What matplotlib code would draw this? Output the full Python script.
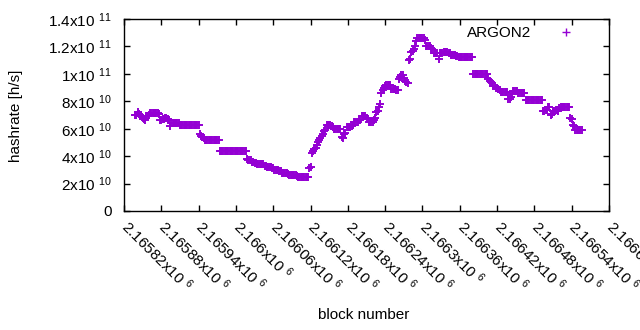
import numpy as np
import matplotlib
matplotlib.use('Agg')
import matplotlib.pyplot as plt
import matplotlib.transforms as mtransforms
from matplotlib.ticker import FuncFormatter, MultipleLocator

plt.rcParams['font.family'] = ['Liberation Sans', 'DejaVu Sans']
plt.rcParams['mathtext.fontset'] = 'custom'
plt.rcParams['mathtext.rm'] = 'Liberation Sans'
plt.rcParams['mathtext.default'] = 'regular'

# sampled every 2 blocks, hashrate in units of 1e10 h/s
block_start = 2165838
block_step = 2
hashrate = [
    7.0, 7.0, 7.2, 7.1, 6.9, 6.9, 6.8, 6.7, 6.6, 6.9,
    6.9, 7.0, 7.15, 7.15, 7.15, 7.15, 7.15, 7.15, 7.15, 7.1,
    6.6, 6.6, 6.7, 6.7, 6.8, 6.8, 6.7, 6.6, 6.2, 6.45,
    6.45, 6.45, 6.45, 6.45, 6.45, 6.45, 6.25, 6.25, 6.25, 6.25,
    6.25, 6.25, 6.25, 6.25, 6.25, 6.25, 6.25, 6.25, 6.25, 6.25,
    6.25, 6.25, 5.6, 5.5, 5.4, 5.3, 5.2, 5.15, 5.15, 5.15,
    5.15, 5.15, 5.15, 5.15, 5.15, 5.15, 5.15, 5.15,
    4.35, 4.35, 4.35, 4.35, 4.35, 4.35, 4.35, 4.35, 4.35, 4.35, 4.35,
    4.35, 4.35, 4.35, 4.35, 4.35, 4.35, 4.35, 4.35, 4.35, 4.35, 4.35,
    3.8, 3.75, 3.7, 3.7, 3.55, 3.55, 3.5, 3.5, 3.45, 3.45,
    3.4, 3.4, 3.4, 3.4, 3.3, 3.3, 3.2, 3.2, 3.2, 3.2,
    3.1, 3.1, 3.0, 3.0, 3.0, 3.0, 2.9, 2.9, 2.8, 2.8,
    2.8, 2.8, 2.75, 2.7, 2.62, 2.62, 2.62, 2.62, 2.6, 2.6,
    2.55, 2.5, 2.48, 2.48, 2.45, 2.45, 2.5, 2.48, 2.48, 2.48,
    3.1, 3.2, 4.2, 4.4, 4.5, 4.6, 4.8, 5.0, 5.2, 5.3,
    5.5, 5.6, 5.8, 5.9, 6.3, 6.3, 6.3, 6.3, 6.2, 6.1,
    6.0, 6.0, 6.0, 6.0, 6.0, 6.0, 5.4, 5.3, 5.6, 5.7,
    6.1, 6.1, 6.1, 6.1, 6.2, 6.3, 6.5, 6.5, 6.5, 6.5,
    6.6, 6.6, 6.9, 6.9, 6.9, 6.9, 6.8, 6.7,
    6.5, 6.5, 6.5, 6.5, 6.6, 6.8, 7.2, 7.3, 7.6, 7.8,
    8.6, 8.8, 9.0, 9.1, 9.2, 9.2, 9.2, 9.2, 8.9, 8.9,
    8.9, 8.9, 8.8, 8.8, 9.6, 9.8, 9.9, 9.9, 9.7, 9.5,
    9.4, 9.3, 11.0, 11.1, 11.6, 11.7, 11.8, 12.0, 12.4, 12.6,
    12.6, 12.6, 12.6, 12.6, 12.6, 12.5, 12.0, 12.0, 12.0, 12.0,
    11.9, 11.8, 11.5, 11.5, 11.5, 11.5, 11.1, 11.5, 11.5, 11.5,
    11.6, 11.6, 11.6, 11.6, 11.5, 11.5, 11.4, 11.4, 11.4, 11.4,
    11.3, 11.3, 11.2, 11.2, 11.2, 11.2, 11.2, 11.2,
    11.2, 11.2, 11.2, 11.2, 11.2, 11.2, 10.0, 10.0, 10.0, 10.0,
    10.0, 10.0, 10.0, 10.0, 10.0, 10.0, 10.0, 10.0, 9.6, 9.5,
    9.4, 9.3, 9.1, 9.1, 9.0, 9.0, 8.9, 8.8, 8.7, 8.7,
    8.7, 8.7, 8.7, 8.7, 8.2, 8.2, 8.3, 8.5, 8.75, 8.75,
    8.75, 8.75, 8.6, 8.6, 8.6, 8.6, 8.6, 8.6, 8.1, 8.1,
    8.1, 8.1, 8.1, 8.1, 8.1, 8.1, 8.1, 8.1, 8.1, 8.1,
    8.1, 8.1, 7.3, 7.3, 7.4, 7.4, 7.6, 7.6, 7.0, 7.1,
    7.3, 7.3, 7.4, 7.4, 7.3, 7.5, 7.6, 7.6, 7.6, 7.6,
    7.6, 7.6, 7.6, 7.6, 6.8, 6.7, 6.3, 6.2, 5.9, 5.9,
    5.9, 5.9, 5.9, 5.9,
]
series_label = 'ARGON2'
x_range = (2165820, 2166600)
y_range = (0, 1.4e11)

blocks = block_start + block_step * np.arange(len(hashrate))
values = np.array(hashrate) * 1e10


def sci_fmt(v, pos=None):
    if v == 0:
        return '0'
    e = int(np.floor(np.log10(abs(v)) + 1e-9))
    m = v / 10 ** e
    return '%gx10 $^{%d}$' % (round(m, 6), e)


fig = plt.figure(figsize=(6.4, 3.3), dpi=100)
ax = fig.add_axes([124 / 640, 1 - 211 / 330, 485 / 640, 192 / 330])

ax.plot(blocks, values, linestyle='none', marker='+', color='#9400d3',
        markersize=6.2, markeredgewidth=1.4, label=series_label)

ax.set_xlim(*x_range)
ax.set_ylim(*y_range)
ax.xaxis.set_major_locator(MultipleLocator(60))
ax.yaxis.set_major_locator(MultipleLocator(2e10))
ax.xaxis.set_major_formatter(FuncFormatter(sci_fmt))
ax.yaxis.set_major_formatter(FuncFormatter(sci_fmt))

ax.tick_params(direction='in', length=4, width=1, top=True, right=True,
               labelsize=11, colors='black')
ax.tick_params(axis='y', pad=9)
ax.tick_params(axis='x', pad=4)
shift = mtransforms.ScaledTranslation(5 / 72, 0, fig.dpi_scale_trans)
for lab in ax.get_xticklabels():
    lab.set_rotation(-45)
    lab.set_ha('left')
    lab.set_va('top')
    lab.set_rotation_mode('anchor')
    lab.set_transform(lab.get_transform() + shift)
for sp in ax.spines.values():
    sp.set_linewidth(1)

ax.set_xlabel('block number', fontsize=11, va='center')
ax.xaxis.set_label_coords(0.495, -(315 - 211) / 192)
ax.set_ylabel('hashrate [h/s]', fontsize=11, va='center')
ax.yaxis.set_label_coords((16 - 124) / 485, 0.495)

leg = ax.legend(loc='upper right', frameon=False, markerfirst=False,
                fontsize=11, handlelength=2.5, handletextpad=1.0,
                borderaxespad=0.3, bbox_to_anchor=(0.972, 1.02))
for h in leg.legend_handles:
    h.set_markersize(5.5)
    h.set_markeredgewidth(1.0)

fig.savefig('out.png', dpi=100)
